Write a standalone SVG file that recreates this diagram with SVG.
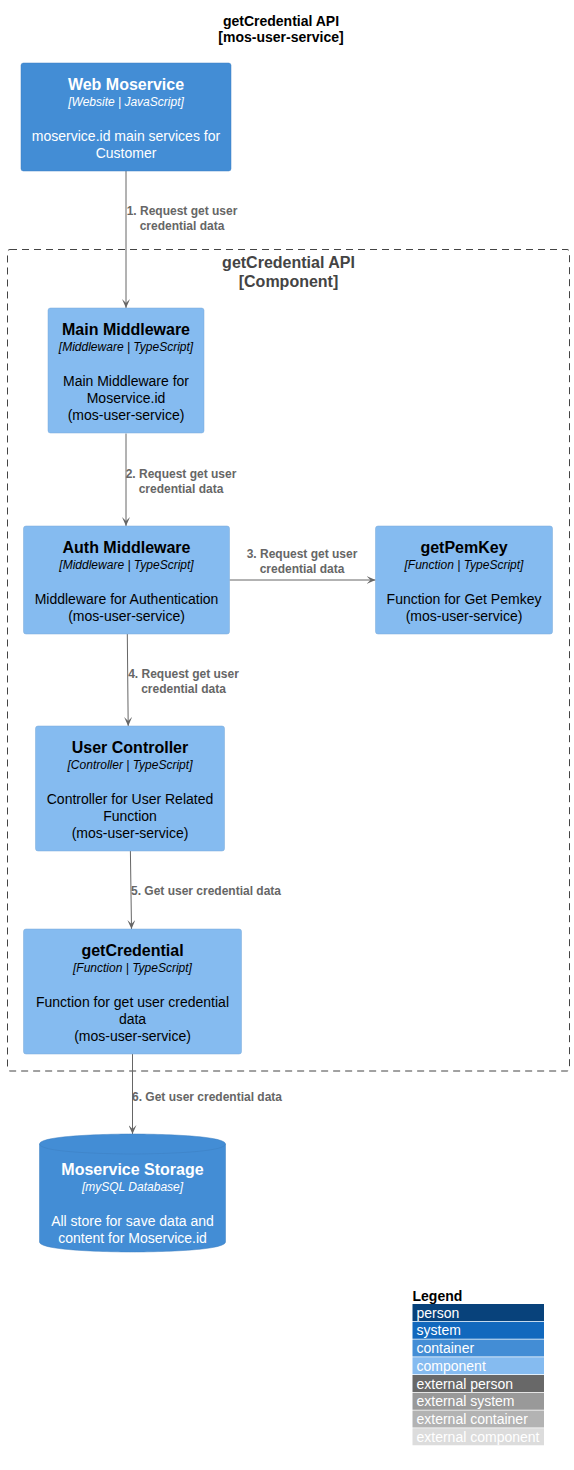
<svg xmlns="http://www.w3.org/2000/svg" width="574" height="1470" viewBox="0 0 574 1470">
<defs>
<style>
text{font-family:"Liberation Sans",Arial,sans-serif;text-anchor:middle}
.title{font-size:14px;font-weight:bold;fill:#000}
.cont{fill:#438DD5;stroke:#3C7FC0;stroke-width:0.5}
.comp{fill:#85BBF0;stroke:#78A8D8;stroke-width:0.5}
.nm{font-size:16px;font-weight:bold}
.tc{font-size:12px;font-style:italic}
.ds{font-size:14px}
.w{fill:#FFFFFF}
.k{fill:#000000}
.bnd{fill:none;stroke:#444444;stroke-width:1;stroke-dasharray:7,5}
.bl{font-size:16px;font-weight:bold;fill:#444444}
.ln{fill:none;stroke:#666666;stroke-width:1}
.lb{font-size:12px;font-weight:bold;fill:#666666}
.lg{font-size:14px;fill:#FFFFFF;text-anchor:start}
</style>
<marker id="ah" viewBox="0 0 10 8" refX="9" refY="4" markerWidth="10" markerHeight="8" markerUnits="userSpaceOnUse" orient="auto">
<path d="M0,0 L9,4 L0,8 L4,4 Z" fill="#666666"/>
</marker>
</defs>
<rect width="574" height="1470" fill="#FFFFFF"/>
<g id="title">
<text class="title" x="281" y="26">getCredential API</text>
<text class="title" x="281" y="42">[mos-user-service]</text>
</g>
<g id="boundary">
<rect class="bnd" x="7.5" y="249.5" width="562" height="821.5" rx="2.5"/>
<text class="bl" x="288.5" y="268">getCredential API</text>
<text class="bl" x="288.5" y="287">[Component]</text>
</g>
<g id="connectors">
<path class="ln" d="M126,171 L126,308" marker-end="url(#ah)"/>
<text class="lb" x="182" y="215">1. Request get user</text>
<text class="lb" x="182" y="230">credential data</text>
<path class="ln" d="M126,433.5 L126,526" marker-end="url(#ah)"/>
<text class="lb" x="181" y="478">2. Request get user</text>
<text class="lb" x="181" y="493">credential data</text>
<path class="ln" d="M229.5,580 L375.5,580" marker-end="url(#ah)"/>
<text class="lb" x="302" y="558">3. Request get user</text>
<text class="lb" x="302" y="573">credential data</text>
<path class="ln" d="M127.3,634 L128.2,726" marker-end="url(#ah)"/>
<text class="lb" x="183.5" y="678">4. Request get user</text>
<text class="lb" x="183.5" y="693">credential data</text>
<path class="ln" d="M130.4,851 L131.5,929" marker-end="url(#ah)"/>
<text class="lb" x="206" y="895">5. Get user credential data</text>
<path class="ln" d="M132.5,1054 L132.5,1134" marker-end="url(#ah)"/>
<text class="lb" x="207" y="1101">6. Get user credential data</text>
</g>
<g id="web-moservice">
<rect class="cont" x="21" y="63" width="210" height="108" rx="2.5"/>
<text class="nm w" x="126" y="90">Web Moservice</text>
<text class="tc w" x="126" y="106">[Website | JavaScript]</text>
<text class="ds w" x="126" y="141">moservice.id main services for</text>
<text class="ds w" x="126" y="158">Customer</text>
</g>
<g id="main-middleware">
<rect class="comp" x="48" y="308" width="156" height="125" rx="2.5"/>
<text class="nm k" x="126" y="335">Main Middleware</text>
<text class="tc k" x="126" y="351">[Middleware | TypeScript]</text>
<text class="ds k" x="126" y="386">Main Middleware for</text>
<text class="ds k" x="126" y="403">Moservice.id</text>
<text class="ds k" x="126" y="420">(mos-user-service)</text>
</g>
<g id="auth-middleware">
<rect class="comp" x="23.5" y="526" width="206" height="108" rx="2.5"/>
<text class="nm k" x="126.5" y="553">Auth Middleware</text>
<text class="tc k" x="126.5" y="569">[Middleware | TypeScript]</text>
<text class="ds k" x="126.5" y="604">Middleware for Authentication</text>
<text class="ds k" x="126.5" y="621">(mos-user-service)</text>
</g>
<g id="getpemkey">
<rect class="comp" x="375.5" y="526" width="177" height="108" rx="2.5"/>
<text class="nm k" x="464" y="553">getPemKey</text>
<text class="tc k" x="464" y="569">[Function | TypeScript]</text>
<text class="ds k" x="464" y="604">Function for Get Pemkey</text>
<text class="ds k" x="464" y="621">(mos-user-service)</text>
</g>
<g id="user-controller">
<rect class="comp" x="35.5" y="726" width="189" height="125" rx="2.5"/>
<text class="nm k" x="130" y="753">User Controller</text>
<text class="tc k" x="130" y="769">[Controller | TypeScript]</text>
<text class="ds k" x="130" y="804">Controller for User Related</text>
<text class="ds k" x="130" y="821">Function</text>
<text class="ds k" x="130" y="838">(mos-user-service)</text>
</g>
<g id="getcredential">
<rect class="comp" x="23.5" y="929" width="218" height="125" rx="2.5"/>
<text class="nm k" x="132.5" y="956">getCredential</text>
<text class="tc k" x="132.5" y="972">[Function | TypeScript]</text>
<text class="ds k" x="132.5" y="1007">Function for get user credential</text>
<text class="ds k" x="132.5" y="1024">data</text>
<text class="ds k" x="132.5" y="1041">(mos-user-service)</text>
</g>
<g id="moservice-storage">
<path class="cont" d="M39.5,1144 C39.5,1134 132.5,1134 132.5,1134 C132.5,1134 225.5,1134 225.5,1144 L225.5,1242 C225.5,1252 132.5,1252 132.5,1252 C132.5,1252 39.5,1252 39.5,1242 Z"/>
<path d="M39.5,1144 C39.5,1154 132.5,1154 132.5,1154 C132.5,1154 225.5,1154 225.5,1144" fill="none" stroke="#3C7FC0" stroke-width="0.5"/>
<text class="nm w" x="132.5" y="1175">Moservice Storage</text>
<text class="tc w" x="132.5" y="1191">[mySQL Database]</text>
<text class="ds w" x="132.5" y="1226">All store for save data and</text>
<text class="ds w" x="132.5" y="1243">content for Moservice.id</text>
</g>
<g id="legend">
<text x="412.5" y="1301" style="font-size:14px;font-weight:bold;fill:#000;text-anchor:start">Legend</text>
<rect x="412.5" y="1304" width="131.5" height="17" fill="#08427B"/>
<rect x="412.5" y="1321.75" width="131.5" height="17" fill="#1168BD"/>
<rect x="412.5" y="1339.5" width="131.5" height="17" fill="#438DD5"/>
<rect x="412.5" y="1357.25" width="131.5" height="17" fill="#85BBF0"/>
<rect x="412.5" y="1375" width="131.5" height="17" fill="#686868"/>
<rect x="412.5" y="1392.75" width="131.5" height="17" fill="#999999"/>
<rect x="412.5" y="1410.5" width="131.5" height="17" fill="#B3B3B3"/>
<rect x="412.5" y="1428.25" width="131.5" height="17" fill="#DCDCDC"/>
<text class="lg" x="416.5" y="1317.5">person</text>
<text class="lg" x="416.5" y="1335.25">system</text>
<text class="lg" x="416.5" y="1353">container</text>
<text class="lg" x="416.5" y="1370.75">component</text>
<text class="lg" x="416.5" y="1388.5">external person</text>
<text class="lg" x="416.5" y="1406.25">external system</text>
<text class="lg" x="416.5" y="1424">external container</text>
<text class="lg" x="416.5" y="1441.75">external component</text>
</g>
</svg>
